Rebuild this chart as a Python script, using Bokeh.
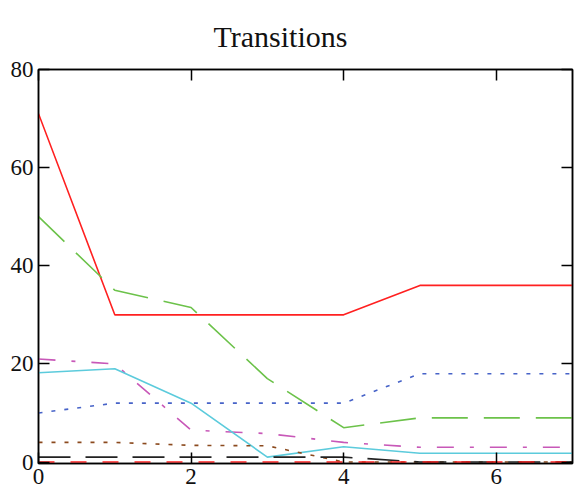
from bokeh.plotting import figure
from bokeh.models import LinearAxis, FixedTicker, Range1d
from bokeh.embed import file_html
from bokeh.resources import INLINE

x = [0, 1, 2, 3, 4, 5, 6, 7]
red_solid = [71, 30, 30, 30, 30, 36, 36, 36]
green_dash = [50, 35, 31.5, 17, 7, 9, 9, 9]
blue_dot = [10, 12, 12, 12, 12, 18, 18, 18]
magenta_dashdot = [21, 20, 6.5, 5.8, 4, 3, 3, 3]
cyan_solid = [18.2, 19, 12, 1, 3.1, 1.8, 1.8, 1.8]
brown_dot = [4, 4, 3.4, 3.3, 0, 0, 0, 0]
black_dash = [1, 1, 1, 1, 1, 0, 0, 0]
red_dash = [0, 0, 0, 0, 0, 0, 0, 0]

x_ticks = [0, 2, 4, 6]
y_ticks = [0, 20, 40, 60, 80]
title_text = "Transitions"

FONT = "Liberation Serif"

p = figure(width=582, height=496, output_backend="svg", toolbar_location=None,
           x_range=Range1d(0, 7), y_range=Range1d(-0.3, 80),
           min_border_left=38, min_border_right=10, min_border_top=69,
           min_border_bottom=33, title=title_text)
p.title.text_font = FONT
p.title.text_font_size = "30px"
p.title.text_font_style = "normal"
p.title.align = "left"
p.title.vertical_align = "bottom"
p.title.offset = 175
p.title.standoff = 34
p.title.text_color = "#111111"

p.xgrid.visible = False
p.ygrid.visible = False
p.outline_line_color = "black"
p.outline_line_width = 1.5
p.background_fill_color = "white"
p.border_fill_color = "white"

series = [
    (red_solid, "#ff2020", None),
    (green_dash, "#6cc24a", "36 16"),
    (blue_dot, "#4763c8", "4 9"),
    (magenta_dashdot, "#c858b8", "17 16 4 16"),
    (cyan_solid, "#5ccbdc", None),
    (brown_dot, "#8b4a1e", "4 9"),
    (black_dash, "#222222", "32 15"),
    (red_dash, "#ff2020", "16 16"),
]
for ys, col, dash in series:
    kw = dict(line_color=col, line_width=1.6)
    if dash:
        kw["line_dash"] = dash
    p.line(x, ys, **kw)

def style(ax, ticks, labels=True):
    ax.ticker = FixedTicker(ticks=ticks)
    ax.axis_line_color = "black"
    ax.axis_line_width = 1.5
    ax.major_tick_line_color = "black"
    ax.major_tick_line_width = 1.5
    ax.major_tick_in = 11
    ax.major_tick_out = 0
    ax.minor_tick_line_color = None
    if labels:
        ax.major_label_text_font = FONT
        ax.major_label_text_font_size = "23px"
        ax.major_label_text_color = "#111111"
        ax.major_label_standoff = 5
    else:
        ax.major_label_overrides = {t: "" for t in ticks}
        ax.major_label_text_color = None
        ax.major_label_standoff = 0

style(p.xaxis[0], x_ticks)
style(p.yaxis[0], y_ticks)

top = LinearAxis()
style(top, x_ticks, labels=False)
p.add_layout(top, "above")
right = LinearAxis()
style(right, y_ticks, labels=False)
p.add_layout(right, "right")

open("out.html", "w").write(file_html(p, INLINE))
